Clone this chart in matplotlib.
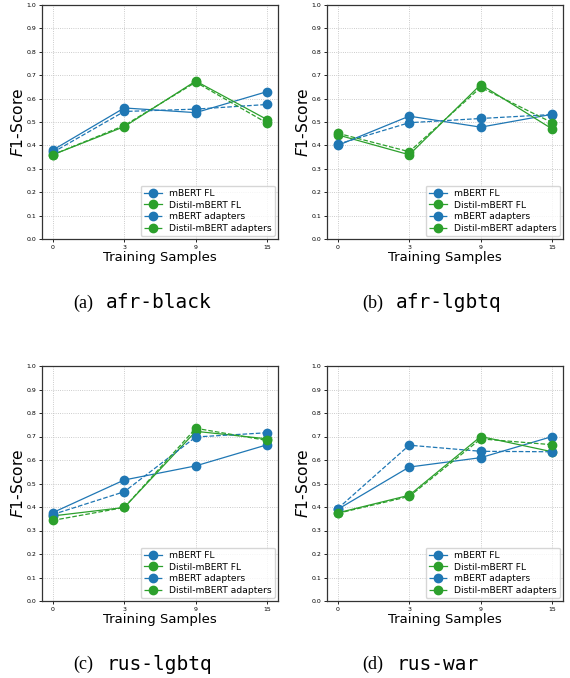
import matplotlib
matplotlib.use("Agg")
import matplotlib.pyplot as plt

# x positions are categorical (equally spaced)
samples = ["0", "3", "9", "15"]
series_names = ["mBERT FL", "Distil-mBERT FL", "mBERT adapters", "Distil-mBERT adapters"]

# panel (a) afr-black
a_mbert_fl = [0.38, 0.56, 0.54, 0.63]
a_distil_fl = [0.36, 0.48, 0.675, 0.51]
a_mbert_ad = [0.37, 0.545, 0.555, 0.575]
a_distil_ad = [0.36, 0.485, 0.67, 0.495]

# panel (b) afr-lgbtq
b_mbert_fl = [0.40, 0.525, 0.478, 0.533]
b_distil_fl = [0.445, 0.36, 0.66, 0.47]
b_mbert_ad = [0.405, 0.497, 0.515, 0.532]
b_distil_ad = [0.452, 0.373, 0.648, 0.497]

# panel (c) rus-lgbtq
c_mbert_fl = [0.376, 0.515, 0.575, 0.665]
c_distil_fl = [0.362, 0.398, 0.722, 0.69]
c_mbert_ad = [0.368, 0.465, 0.698, 0.716]
c_distil_ad = [0.343, 0.398, 0.735, 0.683]

# panel (d) rus-war
d_mbert_fl = [0.39, 0.57, 0.61, 0.70]
d_distil_fl = [0.375, 0.45, 0.70, 0.635]
d_mbert_ad = [0.393, 0.663, 0.637, 0.635]
d_distil_ad = [0.373, 0.445, 0.69, 0.665]

panels = [
    ("(a)", "afr-black", [a_mbert_fl, a_distil_fl, a_mbert_ad, a_distil_ad]),
    ("(b)", "afr-lgbtq", [b_mbert_fl, b_distil_fl, b_mbert_ad, b_distil_ad]),
    ("(c)", "rus-lgbtq", [c_mbert_fl, c_distil_fl, c_mbert_ad, c_distil_ad]),
    ("(d)", "rus-war", [d_mbert_fl, d_distil_fl, d_mbert_ad, d_distil_ad]),
]

blue = "#1f77b4"
green = "#2ca02c"
colors = [blue, green, blue, green]
styles = ["-", "-", "--", "--"]

fig = plt.figure(figsize=(5.7, 6.78), dpi=100)

# axes boxes in pixels: left, top, right, bottom
boxes = [(42, 5, 278, 239), (327, 5, 563, 239),
         (42, 366, 278, 601), (327, 366, 563, 601)]
# caption split point (end of "(x)") and vertical centre, in pixels
caption_xy = [(93, 303), (383, 303), (93, 664), (383, 664)]

W, H = 570.0, 678.0
xs = list(range(len(samples)))

for (tag, name, data), (l, t, r, b), (cx, cy) in zip(panels, boxes, caption_xy):
    ax = fig.add_axes([l / W, 1 - b / H, (r - l) / W, (b - t) / H])
    for vals, c, ls, lab in zip(data, colors, styles, series_names):
        ax.plot(xs, vals, color=c, linestyle=ls, linewidth=0.9,
                marker="o", markersize=6, label=lab)
    ax.set_ylim(0, 1.0)
    ax.set_xlim(-0.15, 3.15)
    ax.set_yticks([i / 10 for i in range(11)])
    ax.set_xticks(xs)
    ax.set_xticklabels(samples)
    ax.tick_params(labelsize=4.5, length=2, width=0.6, pad=2)
    ax.grid(True, linestyle=":", linewidth=0.6, color="#bbbbbb")
    for s in ax.spines.values():
        s.set_linewidth(0.9)
        s.set_color("#333333")
    ax.set_xlabel("Training Samples", fontsize=9.5, labelpad=1)
    ax.set_ylabel(r"$F1$-Score", fontsize=11.2, labelpad=0.5)
    ax.legend(loc="lower right", fontsize=6.6, borderaxespad=0.3,
              handlelength=2.0, labelspacing=0.3, markerscale=1.0,
              borderpad=0.35)
    fig.text(cx / W, 1 - cy / H, tag, family="Liberation Serif",
             fontsize=13, ha="right", va="center")
    fig.text((cx + 13) / W, 1 - cy / H, name, family="DejaVu Sans Mono",
             fontsize=14, ha="left", va="center")

fig.savefig("out.png", dpi=100)
